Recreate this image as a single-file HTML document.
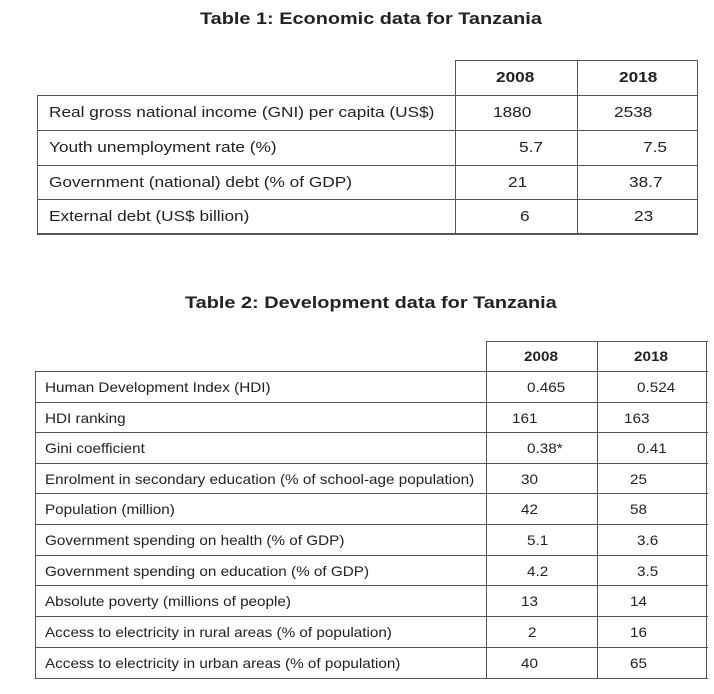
<!DOCTYPE html>
<html><head><style>
body{margin:0;width:714px;height:694px;background:#fff;position:relative;font-family:"Liberation Sans",Arial,sans-serif;color:#222;overflow:hidden}
.t{position:absolute;font-weight:bold;font-size:17px;white-space:nowrap;transform:scaleX(1.17);transform-origin:0 0}
.l{position:absolute;background:#555}
.x{position:absolute;white-space:nowrap;transform-origin:0 0}
.a .x{transform:scaleX(1.15)}
.b .x{transform:scaleX(1.09)}
</style></head><body>
<div class="t" style="left:200px;top:9px">Table 1: Economic data for Tanzania</div>
<div class="t" style="left:185px;top:293px">Table 2: Development data for Tanzania</div>

<div class="l" style="left:455px;top:60px;width:243px;height:1px"></div>
<div class="l" style="left:37px;top:95px;width:661px;height:1px"></div>
<div class="l" style="left:37px;top:130px;width:661px;height:1px"></div>
<div class="l" style="left:37px;top:165px;width:661px;height:1px"></div>
<div class="l" style="left:37px;top:199px;width:661px;height:1px"></div>
<div class="l" style="left:37px;top:233px;width:661px;height:2px"></div>
<div class="l" style="left:37px;top:95px;width:1px;height:139px"></div>
<div class="l" style="left:455px;top:60px;width:1px;height:174px"></div>
<div class="l" style="left:577px;top:60px;width:1px;height:174px"></div>
<div class="l" style="left:697px;top:60px;width:1px;height:174px"></div>
<div class="a" style="font-size:15px">
<div class="x" style="left:496px;top:69px;font-weight:bold">2008</div>
<div class="x" style="left:619px;top:69px;font-weight:bold">2018</div>
<div class="x" style="left:49px;top:104px">Real gross national income (GNI) per capita (US$)</div>
<div class="x" style="left:493px;top:104px">1880</div>
<div class="x" style="left:614px;top:104px">2538</div>
<div class="x" style="left:49px;top:139px">Youth unemployment rate (%)</div>
<div class="x" style="left:519px;top:139px">5.7</div>
<div class="x" style="left:643px;top:139px">7.5</div>
<div class="x" style="left:49px;top:174px">Government (national) debt (% of GDP)</div>
<div class="x" style="left:508px;top:174px">21</div>
<div class="x" style="left:629px;top:174px">38.7</div>
<div class="x" style="left:49px;top:208px">External debt (US$ billion)</div>
<div class="x" style="left:520px;top:208px">6</div>
<div class="x" style="left:634px;top:208px">23</div>
</div>

<div class="l" style="left:486px;top:341px;width:222px;height:1px"></div>
<div class="l" style="left:35px;top:371px;width:673px;height:1px"></div>
<div class="l" style="left:35px;top:402px;width:673px;height:1px"></div>
<div class="l" style="left:35px;top:432px;width:673px;height:1px"></div>
<div class="l" style="left:35px;top:463px;width:673px;height:1px"></div>
<div class="l" style="left:35px;top:493px;width:673px;height:1px"></div>
<div class="l" style="left:35px;top:524px;width:673px;height:1px"></div>
<div class="l" style="left:35px;top:555px;width:673px;height:1px"></div>
<div class="l" style="left:35px;top:585px;width:673px;height:1px"></div>
<div class="l" style="left:35px;top:616px;width:673px;height:1px"></div>
<div class="l" style="left:35px;top:647px;width:673px;height:1px"></div>
<div class="l" style="left:35px;top:678px;width:673px;height:1px"></div>
<div class="l" style="left:35px;top:371px;width:1px;height:308px"></div>
<div class="l" style="left:486px;top:341px;width:1px;height:338px"></div>
<div class="l" style="left:597px;top:341px;width:1px;height:338px"></div>
<div class="l" style="left:706px;top:341px;width:1px;height:338px"></div>
<div class="b" style="font-size:14px">
<div class="x" style="left:524px;top:348px;font-weight:bold">2008</div>
<div class="x" style="left:634px;top:348px;font-weight:bold">2018</div>
<div class="x" style="left:45px;top:379px">Human Development Index (HDI)</div>
<div class="x" style="left:527px;top:379px">0.465</div>
<div class="x" style="left:637px;top:379px">0.524</div>
<div class="x" style="left:45px;top:410px">HDI ranking</div>
<div class="x" style="left:512px;top:410px">161</div>
<div class="x" style="left:624px;top:410px">163</div>
<div class="x" style="left:45px;top:440px">Gini coefficient</div>
<div class="x" style="left:527px;top:440px">0.38*</div>
<div class="x" style="left:637px;top:440px">0.41</div>
<div class="x" style="left:45px;top:471px">Enrolment in secondary education (% of school-age population)</div>
<div class="x" style="left:521px;top:471px">30</div>
<div class="x" style="left:630px;top:471px">25</div>
<div class="x" style="left:45px;top:501px">Population (million)</div>
<div class="x" style="left:521px;top:501px">42</div>
<div class="x" style="left:630px;top:501px">58</div>
<div class="x" style="left:45px;top:532px">Government spending on health (% of GDP)</div>
<div class="x" style="left:527px;top:532px">5.1</div>
<div class="x" style="left:637px;top:532px">3.6</div>
<div class="x" style="left:45px;top:563px">Government spending on education (% of GDP)</div>
<div class="x" style="left:527px;top:563px">4.2</div>
<div class="x" style="left:637px;top:563px">3.5</div>
<div class="x" style="left:45px;top:593px">Absolute poverty (millions of people)</div>
<div class="x" style="left:521px;top:593px">13</div>
<div class="x" style="left:630px;top:593px">14</div>
<div class="x" style="left:45px;top:624px">Access to electricity in rural areas (% of population)</div>
<div class="x" style="left:528px;top:624px">2</div>
<div class="x" style="left:630px;top:624px">16</div>
<div class="x" style="left:45px;top:655px">Access to electricity in urban areas (% of population)</div>
<div class="x" style="left:521px;top:655px">40</div>
<div class="x" style="left:630px;top:655px">65</div>
</div>
</body></html>
